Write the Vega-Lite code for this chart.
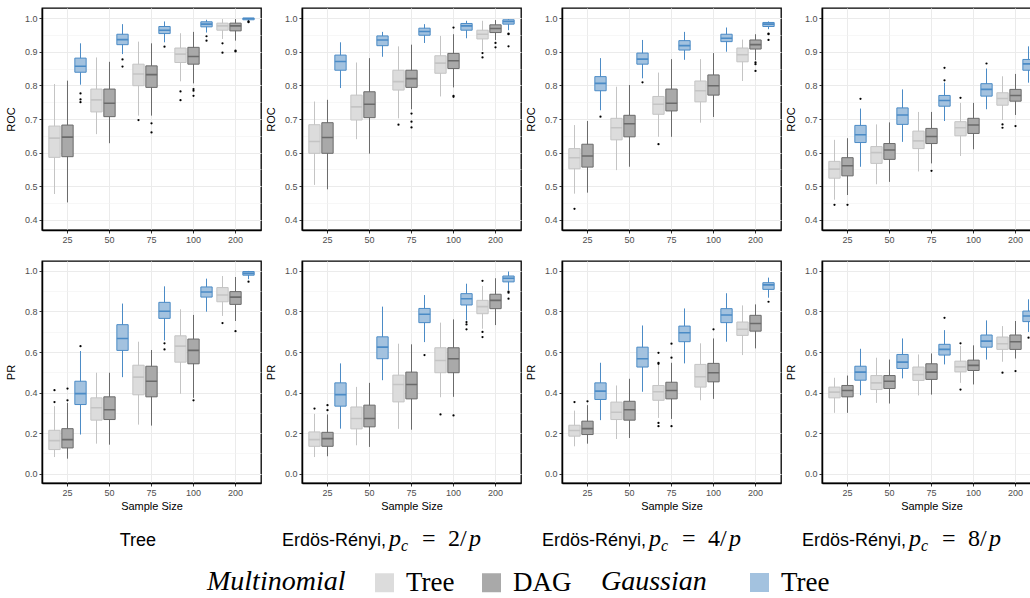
{
"$schema": "https://vega.github.io/schema/vega-lite/v6.json",
"padding": {"left": 4, "top": 7, "right": 0, "bottom": 0},
"background": "white",
"spacing": 15,
"datasets": {
"boxes": [
{"panel":"Tree","metric":"ROC","n":"25","model":"Multinomial Tree","lo":0.477,"q1":0.586,"med":0.643,"q3":0.679,"hi":0.804,"out":[]},
{"panel":"Tree","metric":"ROC","n":"25","model":"Multinomial DAG","lo":0.452,"q1":0.588,"med":0.646,"q3":0.682,"hi":0.814,"out":[]},
{"panel":"Tree","metric":"ROC","n":"25","model":"Gaussian Tree","lo":0.802,"q1":0.839,"med":0.857,"q3":0.881,"hi":0.925,"out":[0.776,0.758,0.750]},
{"panel":"Tree","metric":"ROC","n":"50","model":"Multinomial Tree","lo":0.655,"q1":0.721,"med":0.757,"q3":0.789,"hi":0.883,"out":[]},
{"panel":"Tree","metric":"ROC","n":"50","model":"Multinomial DAG","lo":0.628,"q1":0.707,"med":0.747,"q3":0.789,"hi":0.870,"out":[]},
{"panel":"Tree","metric":"ROC","n":"50","model":"Gaussian Tree","lo":0.893,"q1":0.921,"med":0.936,"q3":0.952,"hi":0.982,"out":[0.877,0.856]},
{"panel":"Tree","metric":"ROC","n":"75","model":"Multinomial Tree","lo":0.710,"q1":0.799,"med":0.834,"q3":0.863,"hi":0.930,"out":[0.697]},
{"panel":"Tree","metric":"ROC","n":"75","model":"Multinomial DAG","lo":0.710,"q1":0.794,"med":0.832,"q3":0.858,"hi":0.925,"out":[0.687,0.660]},
{"panel":"Tree","metric":"ROC","n":"75","model":"Gaussian Tree","lo":0.928,"q1":0.954,"med":0.964,"q3":0.975,"hi":0.990,"out":[0.915]},
{"panel":"Tree","metric":"ROC","n":"100","model":"Multinomial Tree","lo":0.812,"q1":0.868,"med":0.893,"q3":0.911,"hi":0.955,"out":[0.782,0.756]},
{"panel":"Tree","metric":"ROC","n":"100","model":"Multinomial DAG","lo":0.806,"q1":0.863,"med":0.886,"q3":0.913,"hi":0.959,"out":[0.789,0.784,0.769]},
{"panel":"Tree","metric":"ROC","n":"100","model":"Gaussian Tree","lo":0.957,"q1":0.974,"med":0.982,"q3":0.989,"hi":0.995,"out":[0.946,0.933]},
{"panel":"Tree","metric":"ROC","n":"200","model":"Multinomial Tree","lo":0.938,"q1":0.964,"med":0.977,"q3":0.985,"hi":0.997,"out":[0.925,0.897]},
{"panel":"Tree","metric":"ROC","n":"200","model":"Multinomial DAG","lo":0.933,"q1":0.962,"med":0.977,"q3":0.985,"hi":0.997,"out":[0.903,0.901]},
{"panel":"Tree","metric":"ROC","n":"200","model":"Gaussian Tree","lo":0.992,"q1":0.995,"med":0.999,"q3":1.0,"hi":1.0,"out":[0.990,0.988]},
{"panel":"Tree","metric":"PR","n":"25","model":"Multinomial Tree","lo":0.082,"q1":0.119,"med":0.163,"q3":0.214,"hi":0.333,"out":[0.412,0.353]},
{"panel":"Tree","metric":"PR","n":"25","model":"Multinomial DAG","lo":0.074,"q1":0.127,"med":0.168,"q3":0.222,"hi":0.349,"out":[0.420,0.362]},
{"panel":"Tree","metric":"PR","n":"25","model":"Gaussian Tree","lo":0.193,"q1":0.341,"med":0.395,"q3":0.456,"hi":0.605,"out":[0.629]},
{"panel":"Tree","metric":"PR","n":"50","model":"Multinomial Tree","lo":0.148,"q1":0.264,"med":0.325,"q3":0.374,"hi":0.498,"out":[]},
{"panel":"Tree","metric":"PR","n":"50","model":"Multinomial DAG","lo":0.143,"q1":0.267,"med":0.315,"q3":0.379,"hi":0.498,"out":[]},
{"panel":"Tree","metric":"PR","n":"50","model":"Gaussian Tree","lo":0.476,"q1":0.608,"med":0.667,"q3":0.735,"hi":0.839,"out":[]},
{"panel":"Tree","metric":"PR","n":"75","model":"Multinomial Tree","lo":0.242,"q1":0.389,"med":0.476,"q3":0.535,"hi":0.651,"out":[]},
{"panel":"Tree","metric":"PR","n":"75","model":"Multinomial DAG","lo":0.237,"q1":0.379,"med":0.456,"q3":0.530,"hi":0.610,"out":[]},
{"panel":"Tree","metric":"PR","n":"75","model":"Gaussian Tree","lo":0.657,"q1":0.766,"med":0.801,"q3":0.845,"hi":0.924,"out":[0.643,0.613]},
{"panel":"Tree","metric":"PR","n":"100","model":"Multinomial Tree","lo":0.394,"q1":0.550,"med":0.629,"q3":0.680,"hi":0.811,"out":[]},
{"panel":"Tree","metric":"PR","n":"100","model":"Multinomial DAG","lo":0.374,"q1":0.542,"med":0.608,"q3":0.664,"hi":0.783,"out":[0.362]},
{"panel":"Tree","metric":"PR","n":"100","model":"Gaussian Tree","lo":0.799,"q1":0.871,"med":0.896,"q3":0.921,"hi":0.962,"out":[]},
{"panel":"Tree","metric":"PR","n":"200","model":"Multinomial Tree","lo":0.778,"q1":0.848,"med":0.881,"q3":0.918,"hi":0.975,"out":[0.743]},
{"panel":"Tree","metric":"PR","n":"200","model":"Multinomial DAG","lo":0.753,"q1":0.835,"med":0.871,"q3":0.898,"hi":0.970,"out":[0.703]},
{"panel":"Tree","metric":"PR","n":"200","model":"Gaussian Tree","lo":0.959,"q1":0.979,"med":0.988,"q3":0.997,"hi":1.0,"out":[0.947]},
{"panel":"ER2","metric":"ROC","n":"25","model":"Multinomial Tree","lo":0.504,"q1":0.598,"med":0.633,"q3":0.683,"hi":0.752,"out":[]},
{"panel":"ER2","metric":"ROC","n":"25","model":"Multinomial DAG","lo":0.491,"q1":0.598,"med":0.645,"q3":0.689,"hi":0.757,"out":[]},
{"panel":"ER2","metric":"ROC","n":"25","model":"Gaussian Tree","lo":0.792,"q1":0.845,"med":0.871,"q3":0.890,"hi":0.928,"out":[]},
{"panel":"ER2","metric":"ROC","n":"50","model":"Multinomial Tree","lo":0.640,"q1":0.697,"med":0.736,"q3":0.771,"hi":0.868,"out":[]},
{"panel":"ER2","metric":"ROC","n":"50","model":"Multinomial DAG","lo":0.597,"q1":0.704,"med":0.744,"q3":0.781,"hi":0.881,"out":[]},
{"panel":"ER2","metric":"ROC","n":"50","model":"Gaussian Tree","lo":0.885,"q1":0.918,"med":0.935,"q3":0.947,"hi":0.959,"out":[]},
{"panel":"ER2","metric":"ROC","n":"75","model":"Multinomial Tree","lo":0.702,"q1":0.786,"med":0.811,"q3":0.845,"hi":0.916,"out":[0.683]},
{"panel":"ER2","metric":"ROC","n":"75","model":"Multinomial DAG","lo":0.729,"q1":0.794,"med":0.820,"q3":0.845,"hi":0.921,"out":[0.716,0.692,0.675]},
{"panel":"ER2","metric":"ROC","n":"75","model":"Gaussian Tree","lo":0.926,"q1":0.949,"med":0.960,"q3":0.970,"hi":0.982,"out":[]},
{"panel":"ER2","metric":"ROC","n":"100","model":"Multinomial Tree","lo":0.767,"q1":0.836,"med":0.866,"q3":0.888,"hi":0.947,"out":[]},
{"panel":"ER2","metric":"ROC","n":"100","model":"Multinomial DAG","lo":0.794,"q1":0.850,"med":0.873,"q3":0.895,"hi":0.952,"out":[0.972,0.769,0.766]},
{"panel":"ER2","metric":"ROC","n":"100","model":"Gaussian Tree","lo":0.940,"q1":0.964,"med":0.977,"q3":0.984,"hi":0.992,"out":[]},
{"panel":"ER2","metric":"ROC","n":"200","model":"Multinomial Tree","lo":0.903,"q1":0.938,"med":0.952,"q3":0.964,"hi":0.992,"out":[0.896,0.883]},
{"panel":"ER2","metric":"ROC","n":"200","model":"Multinomial DAG","lo":0.935,"q1":0.957,"med":0.969,"q3":0.980,"hi":0.994,"out":[0.926,0.913]},
{"panel":"ER2","metric":"ROC","n":"200","model":"Gaussian Tree","lo":0.964,"q1":0.982,"med":0.990,"q3":0.995,"hi":0.997,"out":[0.954,0.952,0.916]},
{"panel":"ER2","metric":"PR","n":"25","model":"Multinomial Tree","lo":0.082,"q1":0.135,"med":0.168,"q3":0.206,"hi":0.295,"out":[0.321]},
{"panel":"ER2","metric":"PR","n":"25","model":"Multinomial DAG","lo":0.086,"q1":0.135,"med":0.173,"q3":0.204,"hi":0.292,"out":[0.338,0.313]},
{"panel":"ER2","metric":"PR","n":"25","model":"Gaussian Tree","lo":0.222,"q1":0.333,"med":0.390,"q3":0.448,"hi":0.544,"out":[]},
{"panel":"ER2","metric":"PR","n":"50","model":"Multinomial Tree","lo":0.140,"q1":0.221,"med":0.272,"q3":0.329,"hi":0.428,"out":[]},
{"panel":"ER2","metric":"PR","n":"50","model":"Multinomial DAG","lo":0.132,"q1":0.231,"med":0.272,"q3":0.338,"hi":0.448,"out":[]},
{"panel":"ER2","metric":"PR","n":"50","model":"Gaussian Tree","lo":0.461,"q1":0.567,"med":0.624,"q3":0.675,"hi":0.824,"out":[]},
{"panel":"ER2","metric":"PR","n":"75","model":"Multinomial Tree","lo":0.221,"q1":0.354,"med":0.440,"q3":0.486,"hi":0.641,"out":[]},
{"panel":"ER2","metric":"PR","n":"75","model":"Multinomial DAG","lo":0.217,"q1":0.369,"med":0.440,"q3":0.501,"hi":0.638,"out":[]},
{"panel":"ER2","metric":"PR","n":"75","model":"Gaussian Tree","lo":0.649,"q1":0.745,"med":0.786,"q3":0.815,"hi":0.881,"out":[0.585]},
{"panel":"ER2","metric":"PR","n":"100","model":"Multinomial Tree","lo":0.377,"q1":0.498,"med":0.558,"q3":0.621,"hi":0.745,"out":[0.292]},
{"panel":"ER2","metric":"PR","n":"100","model":"Multinomial DAG","lo":0.379,"q1":0.498,"med":0.567,"q3":0.621,"hi":0.761,"out":[0.287]},
{"panel":"ER2","metric":"PR","n":"100","model":"Gaussian Tree","lo":0.756,"q1":0.832,"med":0.863,"q3":0.888,"hi":0.937,"out":[0.748,0.736,0.712]},
{"panel":"ER2","metric":"PR","n":"200","model":"Multinomial Tree","lo":0.715,"q1":0.789,"med":0.824,"q3":0.855,"hi":0.926,"out":[0.951,0.699,0.674]},
{"panel":"ER2","metric":"PR","n":"200","model":"Multinomial DAG","lo":0.733,"q1":0.814,"med":0.855,"q3":0.885,"hi":0.964,"out":[]},
{"panel":"ER2","metric":"PR","n":"200","model":"Gaussian Tree","lo":0.905,"q1":0.946,"med":0.964,"q3":0.975,"hi":0.997,"out":[0.898,0.893,0.863]},
{"panel":"ER4","metric":"ROC","n":"25","model":"Multinomial Tree","lo":0.478,"q1":0.552,"med":0.585,"q3":0.612,"hi":0.682,"out":[0.433]},
{"panel":"ER4","metric":"ROC","n":"25","model":"Multinomial DAG","lo":0.481,"q1":0.557,"med":0.590,"q3":0.625,"hi":0.694,"out":[]},
{"panel":"ER4","metric":"ROC","n":"25","model":"Gaussian Tree","lo":0.726,"q1":0.784,"med":0.806,"q3":0.826,"hi":0.881,"out":[0.707]},
{"panel":"ER4","metric":"ROC","n":"50","model":"Multinomial Tree","lo":0.548,"q1":0.638,"med":0.674,"q3":0.702,"hi":0.796,"out":[]},
{"panel":"ER4","metric":"ROC","n":"50","model":"Multinomial DAG","lo":0.558,"q1":0.647,"med":0.686,"q3":0.711,"hi":0.801,"out":[]},
{"panel":"ER4","metric":"ROC","n":"50","model":"Gaussian Tree","lo":0.821,"q1":0.863,"med":0.878,"q3":0.896,"hi":0.935,"out":[0.809]},
{"panel":"ER4","metric":"ROC","n":"75","model":"Multinomial Tree","lo":0.647,"q1":0.714,"med":0.744,"q3":0.767,"hi":0.838,"out":[0.625]},
{"panel":"ER4","metric":"ROC","n":"75","model":"Multinomial DAG","lo":0.647,"q1":0.724,"med":0.747,"q3":0.789,"hi":0.878,"out":[]},
{"panel":"ER4","metric":"ROC","n":"75","model":"Gaussian Tree","lo":0.876,"q1":0.905,"med":0.918,"q3":0.933,"hi":0.959,"out":[]},
{"panel":"ER4","metric":"ROC","n":"100","model":"Multinomial Tree","lo":0.689,"q1":0.751,"med":0.784,"q3":0.813,"hi":0.878,"out":[]},
{"panel":"ER4","metric":"ROC","n":"100","model":"Multinomial DAG","lo":0.706,"q1":0.771,"med":0.799,"q3":0.831,"hi":0.896,"out":[]},
{"panel":"ER4","metric":"ROC","n":"100","model":"Gaussian Tree","lo":0.900,"q1":0.930,"med":0.940,"q3":0.952,"hi":0.972,"out":[]},
{"panel":"ER4","metric":"ROC","n":"200","model":"Multinomial Tree","lo":0.813,"q1":0.870,"med":0.891,"q3":0.911,"hi":0.936,"out":[]},
{"panel":"ER4","metric":"ROC","n":"200","model":"Multinomial DAG","lo":0.875,"q1":0.908,"med":0.921,"q3":0.935,"hi":0.952,"out":[0.868,0.863,0.843]},
{"panel":"ER4","metric":"ROC","n":"200","model":"Gaussian Tree","lo":0.967,"q1":0.975,"med":0.982,"q3":0.987,"hi":0.990,"out":[0.954,0.952,0.935]},
{"panel":"ER4","metric":"PR","n":"25","model":"Multinomial Tree","lo":0.135,"q1":0.185,"med":0.213,"q3":0.239,"hi":0.311,"out":[0.353]},
{"panel":"ER4","metric":"PR","n":"25","model":"Multinomial DAG","lo":0.148,"q1":0.193,"med":0.222,"q3":0.259,"hi":0.338,"out":[0.357]},
{"panel":"ER4","metric":"PR","n":"25","model":"Gaussian Tree","lo":0.264,"q1":0.366,"med":0.407,"q3":0.448,"hi":0.547,"out":[]},
{"panel":"ER4","metric":"PR","n":"50","model":"Multinomial Tree","lo":0.171,"q1":0.267,"med":0.303,"q3":0.353,"hi":0.435,"out":[]},
{"panel":"ER4","metric":"PR","n":"50","model":"Multinomial DAG","lo":0.176,"q1":0.264,"med":0.315,"q3":0.357,"hi":0.468,"out":[]},
{"panel":"ER4","metric":"PR","n":"50","model":"Gaussian Tree","lo":0.404,"q1":0.526,"med":0.567,"q3":0.624,"hi":0.731,"out":[]},
{"panel":"ER4","metric":"PR","n":"75","model":"Multinomial Tree","lo":0.275,"q1":0.362,"med":0.404,"q3":0.435,"hi":0.539,"out":[0.596,0.547,0.542,0.250,0.234]},
{"panel":"ER4","metric":"PR","n":"75","model":"Multinomial DAG","lo":0.270,"q1":0.369,"med":0.410,"q3":0.451,"hi":0.547,"out":[0.641,0.572,0.234]},
{"panel":"ER4","metric":"PR","n":"75","model":"Gaussian Tree","lo":0.544,"q1":0.651,"med":0.695,"q3":0.728,"hi":0.815,"out":[]},
{"panel":"ER4","metric":"PR","n":"100","model":"Multinomial Tree","lo":0.362,"q1":0.427,"med":0.478,"q3":0.539,"hi":0.643,"out":[]},
{"panel":"ER4","metric":"PR","n":"100","model":"Multinomial DAG","lo":0.369,"q1":0.453,"med":0.498,"q3":0.544,"hi":0.667,"out":[0.712]},
{"panel":"ER4","metric":"PR","n":"100","model":"Gaussian Tree","lo":0.651,"q1":0.745,"med":0.783,"q3":0.814,"hi":0.890,"out":[]},
{"panel":"ER4","metric":"PR","n":"200","model":"Multinomial Tree","lo":0.585,"q1":0.682,"med":0.712,"q3":0.748,"hi":0.830,"out":[]},
{"panel":"ER4","metric":"PR","n":"200","model":"Multinomial DAG","lo":0.618,"q1":0.703,"med":0.741,"q3":0.781,"hi":0.835,"out":[]},
{"panel":"ER4","metric":"PR","n":"200","model":"Gaussian Tree","lo":0.868,"q1":0.909,"med":0.931,"q3":0.942,"hi":0.967,"out":[0.848]},
{"panel":"ER8","metric":"ROC","n":"25","model":"Multinomial Tree","lo":0.460,"q1":0.524,"med":0.551,"q3":0.574,"hi":0.638,"out":[0.445]},
{"panel":"ER8","metric":"ROC","n":"25","model":"Multinomial DAG","lo":0.474,"q1":0.531,"med":0.561,"q3":0.585,"hi":0.643,"out":[0.445]},
{"panel":"ER8","metric":"ROC","n":"25","model":"Gaussian Tree","lo":0.558,"q1":0.630,"med":0.653,"q3":0.681,"hi":0.731,"out":[0.760]},
{"panel":"ER8","metric":"ROC","n":"50","model":"Multinomial Tree","lo":0.506,"q1":0.568,"med":0.600,"q3":0.618,"hi":0.684,"out":[]},
{"panel":"ER8","metric":"ROC","n":"50","model":"Multinomial DAG","lo":0.513,"q1":0.580,"med":0.608,"q3":0.627,"hi":0.690,"out":[]},
{"panel":"ER8","metric":"ROC","n":"50","model":"Gaussian Tree","lo":0.632,"q1":0.684,"med":0.712,"q3":0.733,"hi":0.788,"out":[]},
{"panel":"ER8","metric":"ROC","n":"75","model":"Multinomial Tree","lo":0.544,"q1":0.612,"med":0.635,"q3":0.664,"hi":0.721,"out":[]},
{"panel":"ER8","metric":"ROC","n":"75","model":"Multinomial DAG","lo":0.568,"q1":0.627,"med":0.648,"q3":0.672,"hi":0.721,"out":[0.546]},
{"panel":"ER8","metric":"ROC","n":"75","model":"Gaussian Tree","lo":0.694,"q1":0.738,"med":0.755,"q3":0.770,"hi":0.808,"out":[0.852,0.815]},
{"panel":"ER8","metric":"ROC","n":"100","model":"Multinomial Tree","lo":0.590,"q1":0.650,"med":0.674,"q3":0.692,"hi":0.748,"out":[0.763]},
{"panel":"ER8","metric":"ROC","n":"100","model":"Multinomial DAG","lo":0.610,"q1":0.657,"med":0.682,"q3":0.702,"hi":0.748,"out":[]},
{"panel":"ER8","metric":"ROC","n":"100","model":"Gaussian Tree","lo":0.729,"q1":0.768,"med":0.788,"q3":0.805,"hi":0.850,"out":[0.865]},
{"panel":"ER8","metric":"ROC","n":"200","model":"Multinomial Tree","lo":0.697,"q1":0.741,"med":0.761,"q3":0.778,"hi":0.827,"out":[0.684,0.674]},
{"panel":"ER8","metric":"ROC","n":"200","model":"Multinomial DAG","lo":0.712,"q1":0.753,"med":0.770,"q3":0.788,"hi":0.834,"out":[0.679]},
{"panel":"ER8","metric":"ROC","n":"200","model":"Gaussian Tree","lo":0.808,"q1":0.845,"med":0.864,"q3":0.877,"hi":0.916,"out":[]},
{"panel":"ER8","metric":"PR","n":"25","model":"Multinomial Tree","lo":0.300,"q1":0.374,"med":0.402,"q3":0.427,"hi":0.473,"out":[]},
{"panel":"ER8","metric":"PR","n":"25","model":"Multinomial DAG","lo":0.300,"q1":0.379,"med":0.410,"q3":0.435,"hi":0.484,"out":[]},
{"panel":"ER8","metric":"PR","n":"25","model":"Gaussian Tree","lo":0.387,"q1":0.461,"med":0.501,"q3":0.530,"hi":0.616,"out":[]},
{"panel":"ER8","metric":"PR","n":"50","model":"Multinomial Tree","lo":0.349,"q1":0.415,"med":0.448,"q3":0.484,"hi":0.572,"out":[]},
{"panel":"ER8","metric":"PR","n":"50","model":"Multinomial DAG","lo":0.346,"q1":0.420,"med":0.456,"q3":0.484,"hi":0.563,"out":[]},
{"panel":"ER8","metric":"PR","n":"50","model":"Gaussian Tree","lo":0.470,"q1":0.519,"med":0.550,"q3":0.588,"hi":0.667,"out":[]},
{"panel":"ER8","metric":"PR","n":"75","model":"Multinomial Tree","lo":0.386,"q1":0.460,"med":0.489,"q3":0.526,"hi":0.588,"out":[]},
{"panel":"ER8","metric":"PR","n":"75","model":"Multinomial DAG","lo":0.390,"q1":0.465,"med":0.501,"q3":0.542,"hi":0.593,"out":[]},
{"panel":"ER8","metric":"PR","n":"75","model":"Gaussian Tree","lo":0.539,"q1":0.585,"med":0.613,"q3":0.638,"hi":0.708,"out":[0.769]},
{"panel":"ER8","metric":"PR","n":"100","model":"Multinomial Tree","lo":0.448,"q1":0.502,"med":0.527,"q3":0.555,"hi":0.630,"out":[0.643,0.415]},
{"panel":"ER8","metric":"PR","n":"100","model":"Multinomial DAG","lo":0.440,"q1":0.509,"med":0.534,"q3":0.560,"hi":0.633,"out":[]},
{"panel":"ER8","metric":"PR","n":"100","model":"Gaussian Tree","lo":0.563,"q1":0.624,"med":0.654,"q3":0.684,"hi":0.756,"out":[]},
{"panel":"ER8","metric":"PR","n":"200","model":"Multinomial Tree","lo":0.552,"q1":0.613,"med":0.641,"q3":0.674,"hi":0.728,"out":[0.498]},
{"panel":"ER8","metric":"PR","n":"200","model":"Multinomial DAG","lo":0.568,"q1":0.613,"med":0.651,"q3":0.684,"hi":0.753,"out":[0.506]},
{"panel":"ER8","metric":"PR","n":"200","model":"Gaussian Tree","lo":0.699,"q1":0.750,"med":0.778,"q3":0.802,"hi":0.860,"out":[0.671]}
],
"captions": [
{"col":"Tree","sans":"Tree","k":null},
{"col":"ER2","sans":"Erdös-Rényi,","k":"2/"},
{"col":"ER4","sans":"Erdös-Rényi,","k":"4/"},
{"col":"ER8","sans":"Erdös-Rényi,","k":"8/"}
]
},
"vconcat": [
{
"data": {"name": "boxes"},
"transform": [{"filter": "datum.metric == 'ROC'"}],
"facet": {"column": {"field": "panel", "type": "nominal", "sort": ["Tree","ER2","ER4","ER8"], "header": null}},
"spacing": 41,
"bounds": "flush",
"resolve": {"axis": {"x": "independent", "y": "independent"}},
"spec": {
"width": 219, "height": 222,
"resolve": {"axis": {"y": "independent"}},
"layer": [
{"mark": {"type": "rule", "strokeWidth": 1},
 "encoding": {
  "x": {"field": "n", "type": "nominal", "scale": {"domain": ["25","50","75","100","200"], "paddingInner": 0, "paddingOuter": 0.107}, "axis": {"title": null, "grid": true, "bandPosition": 0.5, "labelAngle": 0}},
  "xOffset": {"field": "model", "type": "nominal", "scale": {"domain": ["Multinomial Tree","Multinomial DAG","Gaussian Tree"], "paddingInner": 0.13, "paddingOuter": 0.18}},
  "y": {"field": "lo", "type": "quantitative", "scale": {"domain": [0.37, 1.03], "nice": false, "zero": false}, "axis": {"title": "ROC", "values": [0.4,0.5,0.6,0.7,0.8,0.9,1.0], "format": ".1f", "grid": true}},
  "y2": {"field": "hi"},
  "stroke": {"field": "model", "type": "nominal", "scale": {"domain": ["Multinomial Tree","Multinomial DAG","Gaussian Tree"], "range": ["#c4c4c4","#6b6b6b","#4b8bc6"]}, "legend": null}
 }},
{"transform": [{"filter": "datum.model != 'Gaussian Tree'"}],
 "mark": {"type": "bar", "strokeWidth": 1},
 "encoding": {
  "x": {"field": "n", "type": "nominal", "scale": {"domain": ["25","50","75","100","200"], "paddingInner": 0, "paddingOuter": 0.107}, "axis": {"title": null, "grid": true, "bandPosition": 0.5, "labelAngle": 0}},
  "xOffset": {"field": "model", "type": "nominal", "scale": {"domain": ["Multinomial Tree","Multinomial DAG","Gaussian Tree"], "paddingInner": 0.13, "paddingOuter": 0.18}},
  "y": {"field": "q1", "type": "quantitative", "scale": {"domain": [0.37, 1.03], "nice": false, "zero": false}, "axis": null},
  "y2": {"field": "q3"},
  "fill": {"field": "model", "type": "nominal", "scale": {"domain": ["Multinomial Tree","Multinomial DAG"], "range": ["#dcdcdc","#a9a9a9"]},
   "legend": {"title": "Multinomial", "orient": "none", "legendX": 165, "legendY": 561, "direction": "horizontal", "titleOrient": "left", "titleFont": "Liberation Serif", "titleFontStyle": "italic", "titleFontWeight": "normal", "titleFontSize": 28, "titleColor": "black", "titlePadding": 25, "labelFont": "Liberation Serif", "labelFontSize": 27, "labelColor": "black", "symbolType": "square", "symbolSize": 361, "symbolStrokeWidth": 0, "labelOffset": 8, "columnPadding": 23, "padding": 0, "labelLimit": 0, "labelExpr": "datum.value == 'Multinomial Tree' ? 'Tree' : 'DAG'"}},
  "stroke": {"field": "model", "type": "nominal", "scale": {"domain": ["Multinomial Tree","Multinomial DAG","Gaussian Tree"], "range": ["#c4c4c4","#6b6b6b","#4b8bc6"]}, "legend": null}
 }},
{"transform": [{"filter": "datum.model == 'Gaussian Tree'"}],
 "mark": {"type": "bar", "strokeWidth": 1},
 "encoding": {
  "x": {"field": "n", "type": "nominal", "scale": {"domain": ["25","50","75","100","200"], "paddingInner": 0, "paddingOuter": 0.107}, "axis": {"title": null, "grid": true, "bandPosition": 0.5, "labelAngle": 0}},
  "xOffset": {"field": "model", "type": "nominal", "scale": {"domain": ["Multinomial Tree","Multinomial DAG","Gaussian Tree"], "paddingInner": 0.13, "paddingOuter": 0.18}},
  "y": {"field": "q1", "type": "quantitative", "scale": {"domain": [0.37, 1.03], "nice": false, "zero": false}, "axis": null},
  "y2": {"field": "q3"},
  "color": {"field": "model", "type": "nominal", "scale": {"domain": ["Gaussian Tree"], "range": ["#a3c2df"]},
   "legend": {"title": "Gaussian", "orient": "none", "legendX": 559, "legendY": 561, "direction": "horizontal", "titleOrient": "left", "titleFont": "Liberation Serif", "titleFontStyle": "italic", "titleFontWeight": "normal", "titleFontSize": 28, "titleColor": "black", "titlePadding": 39, "labelFont": "Liberation Serif", "labelFontSize": 27, "labelColor": "black", "symbolType": "square", "symbolSize": 361, "symbolStrokeWidth": 0, "labelOffset": 8, "columnPadding": 23, "padding": 0, "labelLimit": 0, "labelExpr": "'Tree'"}},
  "stroke": {"field": "model", "type": "nominal", "scale": {"domain": ["Multinomial Tree","Multinomial DAG","Gaussian Tree"], "range": ["#c4c4c4","#6b6b6b","#4b8bc6"]}, "legend": null}
 }},
{"mark": {"type": "bar", "fill": "transparent", "strokeWidth": 1.6},
 "encoding": {
  "x": {"field": "n", "type": "nominal", "scale": {"domain": ["25","50","75","100","200"], "paddingInner": 0, "paddingOuter": 0.107}, "axis": {"title": null, "grid": true, "bandPosition": 0.5, "labelAngle": 0}},
  "xOffset": {"field": "model", "type": "nominal", "scale": {"domain": ["Multinomial Tree","Multinomial DAG","Gaussian Tree"], "paddingInner": 0.13, "paddingOuter": 0.18}},
  "y": {"field": "med", "type": "quantitative", "scale": {"domain": [0.37, 1.03], "nice": false, "zero": false}, "axis": {"title": null, "values": [0.45,0.55,0.65,0.75,0.85,0.95], "labels": false, "ticks": false, "domain": false, "grid": true, "gridColor": "#f2f2f2", "gridWidth": 0.6}},
  "y2": {"field": "med"},
  "stroke": {"field": "model", "type": "nominal", "scale": {"domain": ["Multinomial Tree","Multinomial DAG","Gaussian Tree"], "range": ["#c4c4c4","#6b6b6b","#4b8bc6"]}, "legend": null}
 }},
{"transform": [{"flatten": ["out"], "as": ["o"]}],
 "mark": {"type": "circle", "size": 5, "color": "black", "opacity": 1},
 "encoding": {
  "x": {"field": "n", "type": "nominal", "scale": {"domain": ["25","50","75","100","200"], "paddingInner": 0, "paddingOuter": 0.107}, "axis": {"title": null, "grid": true, "bandPosition": 0.5, "labelAngle": 0}},
  "xOffset": {"field": "model", "type": "nominal", "scale": {"domain": ["Multinomial Tree","Multinomial DAG","Gaussian Tree"], "paddingInner": 0.13, "paddingOuter": 0.18}},
  "y": {"field": "o", "type": "quantitative", "scale": {"domain": [0.37, 1.03], "nice": false, "zero": false}, "axis": null}
 }}
]
}
},
{
"data": {"name": "boxes"},
"transform": [{"filter": "datum.metric == 'PR'"}],
"facet": {"column": {"field": "panel", "type": "nominal", "sort": ["Tree","ER2","ER4","ER8"], "header": null}},
"spacing": 41,
"bounds": "flush",
"resolve": {"axis": {"x": "independent", "y": "independent"}},
"spec": {
"width": 219, "height": 222,
"resolve": {"axis": {"y": "independent"}},
"layer": [
{"mark": {"type": "rule", "strokeWidth": 1},
 "encoding": {
  "x": {"field": "n", "type": "nominal", "scale": {"domain": ["25","50","75","100","200"], "paddingInner": 0, "paddingOuter": 0.107}, "axis": {"title": "Sample Size", "grid": true, "bandPosition": 0.5, "labelAngle": 0}},
  "xOffset": {"field": "model", "type": "nominal", "scale": {"domain": ["Multinomial Tree","Multinomial DAG","Gaussian Tree"], "paddingInner": 0.13, "paddingOuter": 0.18}},
  "y": {"field": "lo", "type": "quantitative", "scale": {"domain": [-0.046, 1.049], "nice": false, "zero": false}, "axis": {"title": "PR", "values": [0,0.2,0.4,0.6,0.8,1.0], "format": ".1f", "grid": true}},
  "y2": {"field": "hi"},
  "stroke": {"field": "model", "type": "nominal", "scale": {"domain": ["Multinomial Tree","Multinomial DAG","Gaussian Tree"], "range": ["#c4c4c4","#6b6b6b","#4b8bc6"]}, "legend": null}
 }},
{"transform": [{"filter": "datum.model != 'Gaussian Tree'"}],
 "mark": {"type": "bar", "strokeWidth": 1},
 "encoding": {
  "x": {"field": "n", "type": "nominal", "scale": {"domain": ["25","50","75","100","200"], "paddingInner": 0, "paddingOuter": 0.107}, "axis": {"title": "Sample Size", "grid": true, "bandPosition": 0.5, "labelAngle": 0}},
  "xOffset": {"field": "model", "type": "nominal", "scale": {"domain": ["Multinomial Tree","Multinomial DAG","Gaussian Tree"], "paddingInner": 0.13, "paddingOuter": 0.18}},
  "y": {"field": "q1", "type": "quantitative", "scale": {"domain": [-0.046, 1.049], "nice": false, "zero": false}, "axis": null},
  "y2": {"field": "q3"},
  "fill": {"field": "model", "type": "nominal", "scale": {"domain": ["Multinomial Tree","Multinomial DAG"], "range": ["#dcdcdc","#a9a9a9"]},
   "legend": {"title": "Multinomial", "orient": "none", "legendX": 165, "legendY": 561, "direction": "horizontal", "titleOrient": "left", "titleFont": "Liberation Serif", "titleFontStyle": "italic", "titleFontWeight": "normal", "titleFontSize": 28, "titleColor": "black", "titlePadding": 25, "labelFont": "Liberation Serif", "labelFontSize": 27, "labelColor": "black", "symbolType": "square", "symbolSize": 361, "symbolStrokeWidth": 0, "labelOffset": 8, "columnPadding": 23, "padding": 0, "labelLimit": 0, "labelExpr": "datum.value == 'Multinomial Tree' ? 'Tree' : 'DAG'"}},
  "stroke": {"field": "model", "type": "nominal", "scale": {"domain": ["Multinomial Tree","Multinomial DAG","Gaussian Tree"], "range": ["#c4c4c4","#6b6b6b","#4b8bc6"]}, "legend": null}
 }},
{"transform": [{"filter": "datum.model == 'Gaussian Tree'"}],
 "mark": {"type": "bar", "strokeWidth": 1},
 "encoding": {
  "x": {"field": "n", "type": "nominal", "scale": {"domain": ["25","50","75","100","200"], "paddingInner": 0, "paddingOuter": 0.107}, "axis": {"title": "Sample Size", "grid": true, "bandPosition": 0.5, "labelAngle": 0}},
  "xOffset": {"field": "model", "type": "nominal", "scale": {"domain": ["Multinomial Tree","Multinomial DAG","Gaussian Tree"], "paddingInner": 0.13, "paddingOuter": 0.18}},
  "y": {"field": "q1", "type": "quantitative", "scale": {"domain": [-0.046, 1.049], "nice": false, "zero": false}, "axis": null},
  "y2": {"field": "q3"},
  "color": {"field": "model", "type": "nominal", "scale": {"domain": ["Gaussian Tree"], "range": ["#a3c2df"]},
   "legend": {"title": "Gaussian", "orient": "none", "legendX": 559, "legendY": 561, "direction": "horizontal", "titleOrient": "left", "titleFont": "Liberation Serif", "titleFontStyle": "italic", "titleFontWeight": "normal", "titleFontSize": 28, "titleColor": "black", "titlePadding": 39, "labelFont": "Liberation Serif", "labelFontSize": 27, "labelColor": "black", "symbolType": "square", "symbolSize": 361, "symbolStrokeWidth": 0, "labelOffset": 8, "columnPadding": 23, "padding": 0, "labelLimit": 0, "labelExpr": "'Tree'"}},
  "stroke": {"field": "model", "type": "nominal", "scale": {"domain": ["Multinomial Tree","Multinomial DAG","Gaussian Tree"], "range": ["#c4c4c4","#6b6b6b","#4b8bc6"]}, "legend": null}
 }},
{"mark": {"type": "bar", "fill": "transparent", "strokeWidth": 1.6},
 "encoding": {
  "x": {"field": "n", "type": "nominal", "scale": {"domain": ["25","50","75","100","200"], "paddingInner": 0, "paddingOuter": 0.107}, "axis": {"title": "Sample Size", "grid": true, "bandPosition": 0.5, "labelAngle": 0}},
  "xOffset": {"field": "model", "type": "nominal", "scale": {"domain": ["Multinomial Tree","Multinomial DAG","Gaussian Tree"], "paddingInner": 0.13, "paddingOuter": 0.18}},
  "y": {"field": "med", "type": "quantitative", "scale": {"domain": [-0.046, 1.049], "nice": false, "zero": false}, "axis": {"title": null, "values": [0.1,0.3,0.5,0.7,0.9], "labels": false, "ticks": false, "domain": false, "grid": true, "gridColor": "#f2f2f2", "gridWidth": 0.6}},
  "y2": {"field": "med"},
  "stroke": {"field": "model", "type": "nominal", "scale": {"domain": ["Multinomial Tree","Multinomial DAG","Gaussian Tree"], "range": ["#c4c4c4","#6b6b6b","#4b8bc6"]}, "legend": null}
 }},
{"transform": [{"flatten": ["out"], "as": ["o"]}],
 "mark": {"type": "circle", "size": 5, "color": "black", "opacity": 1},
 "encoding": {
  "x": {"field": "n", "type": "nominal", "scale": {"domain": ["25","50","75","100","200"], "paddingInner": 0, "paddingOuter": 0.107}, "axis": {"title": "Sample Size", "grid": true, "bandPosition": 0.5, "labelAngle": 0}},
  "xOffset": {"field": "model", "type": "nominal", "scale": {"domain": ["Multinomial Tree","Multinomial DAG","Gaussian Tree"], "paddingInner": 0.13, "paddingOuter": 0.18}},
  "y": {"field": "o", "type": "quantitative", "scale": {"domain": [-0.046, 1.049], "nice": false, "zero": false}, "axis": null}
 }}
]
}
},
{
"data": {"name": "captions"},
"width": 972, "height": 36,
"view": {"stroke": null},
"encoding": {"x": {"field": "col", "type": "nominal", "scale": {"type": "point", "domain": ["Tree","ER2","ER4","ER8"], "padding": 0.369}, "axis": null}},
"layer": [
{"transform": [{"filter": "datum.col == 'Tree'"}], "mark": {"type": "text", "font": "Liberation Sans", "fontSize": 18, "align": "center", "baseline": "alphabetic", "color": "black"}, "encoding": {"text": {"field": "sans"}}},
{"transform": [{"filter": "datum.col != 'Tree'"}], "mark": {"type": "text", "font": "Liberation Sans", "fontSize": 18, "align": "right", "baseline": "alphabetic", "dx": -12, "color": "black"}, "encoding": {"text": {"field": "sans"}}},
{"transform": [{"filter": "datum.col != 'Tree'"}], "mark": {"type": "text", "font": "Liberation Serif", "fontStyle": "italic", "fontSize": 24, "align": "left", "baseline": "alphabetic", "dx": -9, "color": "black", "text": "p"}, "encoding": {}},
{"transform": [{"filter": "datum.col != 'Tree'"}], "mark": {"type": "text", "font": "Liberation Serif", "fontStyle": "italic", "fontSize": 16, "align": "left", "baseline": "alphabetic", "dx": 3, "dy": 5, "color": "black", "text": "c"}, "encoding": {}},
{"transform": [{"filter": "datum.col != 'Tree'"}], "mark": {"type": "text", "font": "Liberation Serif", "fontSize": 24, "align": "left", "baseline": "alphabetic", "dx": 24, "color": "black", "text": "="}, "encoding": {}},
{"transform": [{"filter": "datum.col != 'Tree'"}], "mark": {"type": "text", "font": "Liberation Serif", "fontSize": 24, "align": "left", "baseline": "alphabetic", "dx": 50, "color": "black"}, "encoding": {"text": {"field": "k"}}},
{"transform": [{"filter": "datum.col != 'Tree'"}], "mark": {"type": "text", "font": "Liberation Serif", "fontStyle": "italic", "fontSize": 24, "align": "left", "baseline": "alphabetic", "dx": 71, "color": "black", "text": "p"}, "encoding": {}}
]
}
],
"config": {
 "view": {"stroke": "black", "strokeWidth": 1.3},
 "font": "Liberation Sans",
 "axis": {"labelFont": "Liberation Sans", "titleFont": "Liberation Sans", "labelFontSize": 9, "labelColor": "#4d4d4d", "titleFontSize": 11, "titleFontWeight": "normal", "titleColor": "black", "tickColor": "#333333", "tickSize": 3, "labelPadding": 2, "domainColor": "black", "domainWidth": 1.5, "gridColor": "#ebebeb", "gridWidth": 1},
 "axisX": {"titlePadding": 3},
 "axisY": {"titlePadding": 8}
}
}
